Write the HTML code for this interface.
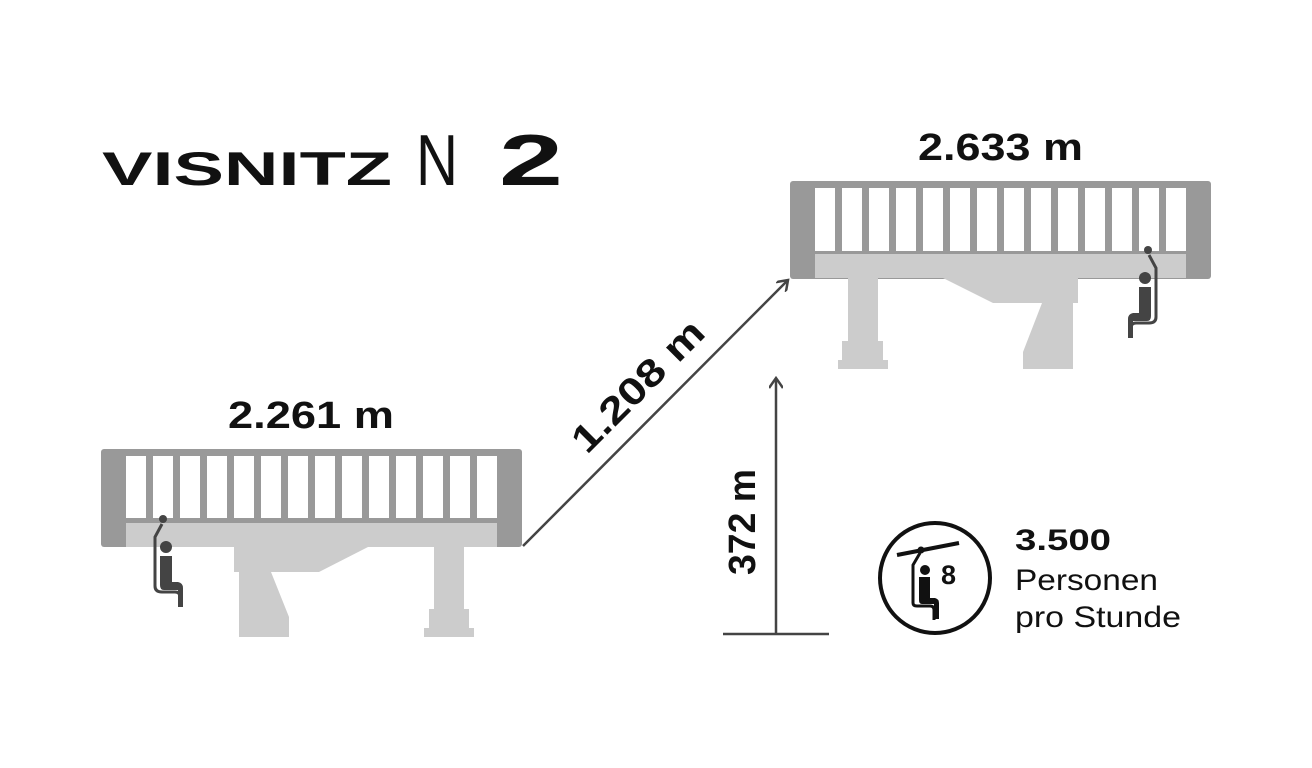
<!DOCTYPE html>
<html><head><meta charset="utf-8"><style>
html,body{margin:0;padding:0;background:#fff;}
svg{display:block;}
text{font-family:"Liberation Sans",sans-serif;}
</style></head><body>
<svg width="1312" height="768" viewBox="0 0 1312 768" xmlns="http://www.w3.org/2000/svg">
<defs>
<marker id="ah" markerWidth="14" markerHeight="14" refX="11" refY="7" orient="auto" markerUnits="userSpaceOnUse">
<path d="M1,0 L11,7 L1,14" fill="none" stroke="#444" stroke-width="2.5"/>
</marker>
</defs>
<!-- Title -->
<text x="102" y="185" font-size="47" font-weight="bold" textLength="290" lengthAdjust="spacingAndGlyphs" fill="#111">VISNITZ</text>
<text x="416" y="185" font-size="72" font-weight="normal" textLength="42" lengthAdjust="spacingAndGlyphs" fill="#111">N</text>
<text x="499" y="185" font-size="72" font-weight="bold" textLength="64" lengthAdjust="spacingAndGlyphs" fill="#111">2</text>

<!-- Left station -->
<g>
<rect x="101" y="449" width="421" height="98" rx="3" fill="#999"/>
<rect x="126" y="523" width="371" height="24" fill="#ccc"/>
<g fill="#fff">
<rect x="126" y="456" width="20" height="62"/><rect x="153" y="456" width="20" height="62"/><rect x="180" y="456" width="20" height="62"/><rect x="207" y="456" width="20" height="62"/><rect x="234" y="456" width="20" height="62"/><rect x="261" y="456" width="20" height="62"/><rect x="288" y="456" width="20" height="62"/><rect x="315" y="456" width="20" height="62"/><rect x="342" y="456" width="20" height="62"/><rect x="369" y="456" width="20" height="62"/><rect x="396" y="456" width="20" height="62"/><rect x="423" y="456" width="20" height="62"/><rect x="450" y="456" width="20" height="62"/><rect x="477" y="456" width="20" height="62"/>
</g>
<path d="M234,547 L368,547 L319,572 L271,572 L289,617 L289,637 L239,637 L239,572 L234,572 Z" fill="#ccc"/>
<rect x="434" y="547" width="30" height="62" fill="#ccc"/>
<rect x="429" y="609" width="40" height="19" fill="#ccc"/>
<rect x="424" y="628" width="50" height="9" fill="#ccc"/>
<!-- chair -->
<circle cx="163" cy="519" r="4" fill="#444"/>
<path d="M162,524 L155,537 L155,586 Q155,592 162,592 L175,592 Q180,592 180,597" fill="none" stroke="#444" stroke-width="3"/>
<circle cx="166" cy="547" r="6" fill="#444"/>
<path d="M160,556 L172,556 L172,582 L178,582 Q183,583 183,588 L183,607 L178,607 L178,590 L164,590 Q160,590 160,585 Z" fill="#444"/>
</g>

<!-- Right station -->
<g>
<rect x="790" y="181" width="421" height="98" rx="3" fill="#999"/>
<rect x="815" y="254" width="371" height="24" fill="#ccc"/>
<g fill="#fff">
<rect x="815" y="188" width="20" height="63"/><rect x="842" y="188" width="20" height="63"/><rect x="869" y="188" width="20" height="63"/><rect x="896" y="188" width="20" height="63"/><rect x="923" y="188" width="20" height="63"/><rect x="950" y="188" width="20" height="63"/><rect x="977" y="188" width="20" height="63"/><rect x="1004" y="188" width="20" height="63"/><rect x="1031" y="188" width="20" height="63"/><rect x="1058" y="188" width="20" height="63"/><rect x="1085" y="188" width="20" height="63"/><rect x="1112" y="188" width="20" height="63"/><rect x="1139" y="188" width="20" height="63"/><rect x="1166" y="188" width="20" height="63"/>
</g>
<rect x="848" y="278" width="30" height="63" fill="#ccc"/>
<rect x="842" y="341" width="41" height="19" fill="#ccc"/>
<rect x="838" y="360" width="50" height="9" fill="#ccc"/>
<path d="M943,278 L1078,278 L1078,303 L1073,303 L1073,369 L1023,369 L1023,352 L1042,303 L993,303 Z" fill="#ccc"/>
<circle cx="1148" cy="250" r="4" fill="#444"/>
<path d="M1149,255 L1156,268 L1156,317 Q1156,323 1149,323 L1136,323 Q1131,323 1131,328" fill="none" stroke="#444" stroke-width="3"/>
<circle cx="1145" cy="278" r="6" fill="#444"/>
<path d="M1151,287 L1139,287 L1139,313 L1133,313 Q1128,314 1128,319 L1128,338 L1133,338 L1133,321 L1147,321 Q1151,321 1151,316 Z" fill="#444"/>
</g>

<text x="918" y="160" font-size="38" font-weight="bold" textLength="165" lengthAdjust="spacingAndGlyphs" fill="#111">2.633 m</text>
<text x="228" y="428" font-size="38" font-weight="bold" textLength="166" lengthAdjust="spacingAndGlyphs" fill="#111">2.261 m</text>

<!-- diagonal arrow -->
<line x1="523" y1="546" x2="788" y2="280" stroke="#444" stroke-width="2.5" marker-end="url(#ah)"/>
<text x="0" y="0" font-size="38" font-weight="bold" text-anchor="middle" textLength="170" lengthAdjust="spacingAndGlyphs" fill="#111" transform="translate(647,395) rotate(-45)">1.208 m</text>

<!-- vertical arrow -->
<line x1="776" y1="634" x2="776" y2="378" stroke="#444" stroke-width="2.5" marker-end="url(#ah)"/>
<line x1="723" y1="634" x2="829" y2="634" stroke="#444" stroke-width="2.5"/>
<text x="0" y="0" font-size="38" font-weight="bold" text-anchor="middle" textLength="106" lengthAdjust="spacingAndGlyphs" fill="#111" transform="translate(755,522) rotate(-90)">372 m</text>

<!-- capacity icon -->
<circle cx="935" cy="578" r="55" fill="none" stroke="#111" stroke-width="4"/>
<line x1="897" y1="555" x2="959" y2="543" stroke="#111" stroke-width="4"/>
<circle cx="921" cy="550" r="3.5" fill="#111"/>
<path d="M920,553 L913,565 L913,603 Q913,606 917,606 L930,606 Q934,606 934,610 L934,620" fill="none" stroke="#111" stroke-width="3"/>
<circle cx="925" cy="570" r="5" fill="#111"/>
<path d="M919,577 L930,577 L930,598 L935,598 Q939,599 939,603 L939,619 L934,619 L934,604 L922,604 Q919,604 919,600 Z" fill="#111"/>
<text x="941" y="584" font-size="27" font-weight="bold" fill="#111">8</text>

<text x="1015" y="550" font-size="30" font-weight="bold" textLength="96" lengthAdjust="spacingAndGlyphs" fill="#111">3.500</text>
<text x="1015" y="590" font-size="30" textLength="143" lengthAdjust="spacingAndGlyphs" fill="#111">Personen</text>
<text x="1015" y="627" font-size="30" textLength="166" lengthAdjust="spacingAndGlyphs" fill="#111">pro Stunde</text>
</svg>
</body></html>
